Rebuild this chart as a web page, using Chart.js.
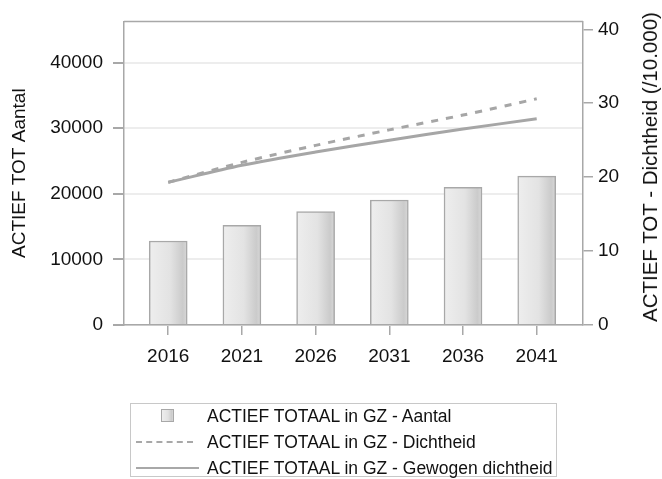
<!DOCTYPE html>
<html>
<head>
<meta charset="utf-8">
<script src="https://cdn.jsdelivr.net/npm/chart.js@4/dist/chart.umd.min.js"></script>
<style>
  html, body { margin: 0; padding: 0; background: #fff; }
  #wrap { position: relative; width: 662px; height: 479px; font-family: "Liberation Sans", Arial, sans-serif; }
  #legend {
    position: absolute; left: 130px; top: 403px; width: 427px; height: 74px;
    border: 1px solid #c8c8c8; box-sizing: border-box; color: #111; font-size: 17.5px;
  }
  .row { position: absolute; left: 0; height: 26px; line-height: 26px; width: 100%; }
  .row span { position: absolute; left: 76px; top: 0; white-space: nowrap; }
  .mk { position: absolute; }
  #rtitle {
    position: absolute; left: 650px; top: 167px; white-space: nowrap; color: #111; font-size: 20.5px;
    transform: translate(-50%, -50%) rotate(-90deg);
  }
</style>
</head>
<body>
<div id="wrap">
  <canvas id="chart" width="662" height="479"></canvas>
  <div id="rtitle">ACTIEF TOT - Dichtheid (/10.000)</div>
  <div id="legend">
    <div class="row" style="top:-1px"><div class="mk" style="left:30px;top:6px;width:11px;height:11px;border:1px solid #a8a8a8;background:linear-gradient(90deg,#eeeeee,#e2e2e2 55%,#cacaca 90%,#dadada)"></div><span>ACTIEF TOTAAL in GZ - Aantal</span></div>
    <div class="row" style="top:25px"><div class="mk" style="left:5px;top:12px;width:57px;border-top:2px dashed #a8a8a8"></div><span>ACTIEF TOTAAL in GZ - Dichtheid</span></div>
    <div class="row" style="top:51px"><div class="mk" style="left:5px;top:12px;width:63px;border-top:2px solid #a8a8a8"></div><span>ACTIEF TOTAAL in GZ - Gewogen dichtheid</span></div>
  </div>
</div>
<script>
// data
const years = [2016, 2021, 2026, 2031, 2036, 2041];
const aantal = [12800, 15200, 17300, 19050, 21000, 22700];
const dichtheid = [19.3, 22.0, 24.3, 26.4, 28.4, 30.6];
const gewogen = [19.3, 21.6, 23.4, 25.0, 26.5, 27.9];
const leftTicks = [0, 10000, 20000, 30000, 40000];
const rightTicks = [0, 10, 20, 30, 40];

const lineGrey = '#a6a6a6';
const frameGrey = '#a8a8a8';
const tickFont = { family: '"Liberation Sans", Arial, sans-serif', size: 19 };

function barFill(ctx) {
    const chart = ctx.chart;
    if (!chart.chartArea || ctx.parsed === undefined) return '#e4e4e4';
    const cx = chart.scales.x.getPixelForValue(ctx.parsed.x);
    const g = chart.ctx.createLinearGradient(cx - 19, 0, cx + 19, 0);
    g.addColorStop(0, '#eeeeee');
    g.addColorStop(0.55, '#e3e3e3');
    g.addColorStop(0.88, '#cbcbcb');
    g.addColorStop(1, '#d8d8d8');
    return g;
}

// top border of the plot frame
const frameTop = {
    id: 'frameTop',
    afterDraw(chart) {
        const a = chart.chartArea, c = chart.ctx;
        c.save();
        c.strokeStyle = frameGrey;
        c.lineWidth = 1.5;
        c.beginPath();
        c.moveTo(a.left, a.top);
        c.lineTo(a.right, a.top);
        c.stroke();
        c.restore();
    }
};

new Chart(document.getElementById('chart'), {
    data: {
        datasets: [
            {
                type: 'line',
                label: 'ACTIEF TOTAAL in GZ - Dichtheid',
                data: years.map((y, i) => ({ x: y, y: dichtheid[i] })),
                yAxisID: 'y1',
                borderColor: lineGrey,
                borderWidth: 3,
                borderDash: [7, 8],
                pointRadius: 0,
                tension: 0.3
            },
            {
                type: 'line',
                label: 'ACTIEF TOTAAL in GZ - Gewogen dichtheid',
                data: years.map((y, i) => ({ x: y, y: gewogen[i] })),
                yAxisID: 'y1',
                borderColor: lineGrey,
                borderWidth: 3,
                pointRadius: 0,
                tension: 0.3
            },
            {
                type: 'bar',
                label: 'ACTIEF TOTAAL in GZ - Aantal',
                data: years.map((y, i) => ({ x: y, y: aantal[i] })),
                yAxisID: 'y',
                backgroundColor: barFill,
                borderColor: frameGrey,
                borderWidth: 1.5,
                barThickness: 38
            }
        ]
    },
    options: {
        responsive: false,
        animation: false,
        layout: { padding: { top: 10, left: 0, right: 0, bottom: 0 } },
        plugins: { legend: { display: false }, tooltip: { enabled: false } },
        scales: {
            x: {
                type: 'linear',
                offset: false,
                min: 2013,
                max: 2044.14,
                afterBuildTicks: s => { s.ticks = years.map(v => ({ value: v })); },
                afterFit: s => { s.height = 154; },
                ticks: { color: '#111', font: tickFont, padding: 10, callback: v => String(v) },
                grid: { offset: false, drawOnChartArea: false, tickLength: 10, tickColor: frameGrey, lineWidth: 1.5 },
                border: { color: frameGrey, width: 1.5 }
            },
            y: {
                position: 'left',
                min: 0,
                max: 46272,
                afterBuildTicks: s => { s.ticks = leftTicks.map(v => ({ value: v })); },
                afterFit: s => { s.width = 124; },
                ticks: { color: '#111', font: tickFont, padding: 10, callback: v => String(v) },
                grid: { color: '#ededed', lineWidth: 2, tickLength: 11, tickColor: frameGrey },
                border: { color: frameGrey, width: 1.5 },
                title: { display: true, text: 'ACTIEF TOT Aantal', color: '#111', font: tickFont, padding: { top: 8, bottom: 0 } }
            },
            y1: {
                position: 'right',
                min: 0,
                max: 41.07,
                afterBuildTicks: s => { s.ticks = rightTicks.map(v => ({ value: v })); },
                afterFit: s => { s.width = 79; },
                ticks: { color: '#111', font: tickFont, padding: 5, callback: v => String(v) },
                grid: { drawOnChartArea: false, tickLength: 10, tickColor: frameGrey, lineWidth: 1.5 },
                border: { color: frameGrey, width: 1.5 }
            }
        }
    },
    plugins: [frameTop]
});
</script>
</body>
</html>
